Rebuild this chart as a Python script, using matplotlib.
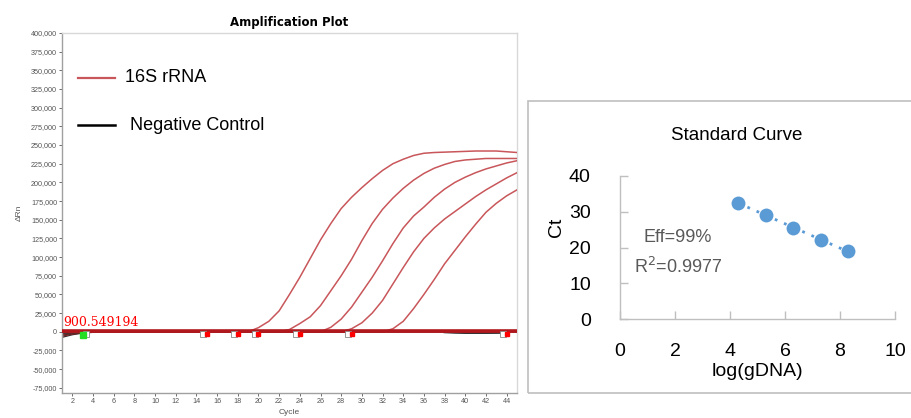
import numpy as np
import matplotlib
matplotlib.use("Agg")
import matplotlib.pyplot as plt
from matplotlib.patches import Rectangle
from matplotlib.lines import Line2D

# ---------------- data ----------------
cycles = list(range(1, 46))

curve1 = [0]*19 + [5500, 14000, 28000, 50000, 73000, 98000, 123000, 145000, 165000,
                   180000, 193000, 205000, 216000, 225000, 231000, 236000, 239000,
                   240000, 240500, 241000, 241500, 242000, 242000, 242000, 241000, 240000]
curve2 = [0]*22 + [3000, 11000, 20000, 35000, 55000, 75000, 97000, 122000, 145000,
                   164000, 179000, 192000, 203000, 212000, 219000, 224000, 228000,
                   230000, 231000, 232000, 232000, 232000, 232000]
curve3 = [0]*26 + [6000, 17000, 33000, 53000, 73000, 95000, 118000, 139000, 155000,
                   167000, 180000, 191000, 200000, 207000, 213000, 218000, 222000,
                   226000, 229000]
curve4 = [0]*28 + [4000, 12000, 25000, 42000, 64000, 86000, 107000, 125000, 139000,
                   151000, 161000, 171000, 181000, 190000, 198000, 206000, 213000]
curve5 = [0]*32 + [4000, 14000, 31000, 50000, 70000, 91000, 109000, 127000, 144000,
                   160000, 172000, 182000, 190000]
amp_curves = [curve1, curve2, curve3, curve4, curve5]

neg_start = [-7500, -4000, -1800, -800, -300, -100, 0]
neg_tail_a = [-600, -1200, -1500, -1500, -1500, -1400, -1200]  # cycles 38..44
neg_tail_b = [-300, -500, -700, -800, -800, -700, -600]

threshold = 900.549194
marker_cycles = [15, 18, 20, 24, 29, 44]
green_cycle = 3

amp_yticks = list(range(-75000, 400001, 25000))
amp_xticks = list(range(2, 45, 2))

log_dna = [4.3, 5.3, 6.3, 7.3, 8.3]
ct_vals = [32.5, 29.0, 25.5, 22.2, 18.9]

# ---------------- figure ----------------
W, H = 912, 418
fig = plt.figure(figsize=(W/100, H/100), dpi=100)
plt.rcParams['font.family'] = ['Liberation Sans', 'DejaVu Sans']

def fx(px):
    return px / W

def fy(py):
    return 1 - py / H

# ---- amplification plot ----
ax = fig.add_axes([fx(62), fy(393), fx(517) - fx(62), fy(33) - fy(393)])
ax.set_xlim(1, 45)
ax.set_ylim(-82000, 400000)

for c in amp_curves:
    ax.plot(cycles, c, color='#c8565a', lw=1.1, zorder=3)

# fan of baseline traces at the start
for k, scale in enumerate([1.0, 0.8, 0.6, 0.45, 0.3]):
    ax.plot(cycles[:7], [v*scale for v in neg_start], color='#303030' if k % 2 == 0 else '#8b2020',
            lw=0.9, zorder=2)
ax.plot(cycles[37:44], neg_tail_a, color='#202020', lw=1.5, zorder=2)
ax.plot(cycles[37:44], neg_tail_b, color='#404040', lw=1.2, zorder=2)

# threshold line (thick dark red baseline)
ax.axhline(threshold, color='#b0181e', lw=2.6, zorder=4)
ax.axhline(-500, color='#8b1a1a', lw=1.2, zorder=3.5)

# baseline markers
for mc in marker_cycles:
    ax.plot([mc - 0.35], [-2500], marker='s', ms=4, mfc='white', mec='#888888', mew=0.6, zorder=5)
    ax.plot([mc], [-3000], marker='s', ms=3.5, color='#ff0000', zorder=6)
ax.plot([green_cycle + 0.3], [-3000], marker='s', ms=4, mfc='white', mec='#888888', mew=0.6, zorder=5)
ax.plot([green_cycle], [-4000], marker='s', ms=4.5, color='#22dd22', zorder=6)

ax.text(1.15, 3500, f"{threshold:.6f}", color='#ff0000', fontsize=9,
        family='DejaVu Serif', va='bottom', ha='left', zorder=7)

ax.set_xticks(amp_xticks)
ax.set_yticks(amp_yticks)
ax.set_yticklabels([f"{v:,}" for v in amp_yticks])
ax.tick_params(axis='both', labelsize=5.2, colors='#555555', length=2, width=0.6, pad=1.5)
for s in ['left', 'bottom']:
    ax.spines[s].set_color('#a0a0a0')
    ax.spines[s].set_linewidth(1.0)
for s in ['top', 'right']:
    ax.spines[s].set_color('#d8d8d8')
    ax.spines[s].set_linewidth(1.0)

ax.set_title('Amplification Plot', fontsize=8.5, fontweight='bold', family='DejaVu Sans', pad=5)
ax.set_ylabel('ΔRn', fontsize=6, color='#555555', labelpad=6)
ax.set_xlabel('Cycle', fontsize=6, color='#555555', labelpad=3)

# legend drawn manually
ax.add_line(Line2D([0.035, 0.116], [0.875, 0.875], transform=ax.transAxes, color='#c8565a', lw=1.6))
ax.text(0.139, 0.875, '16S rRNA', transform=ax.transAxes, fontsize=13, va='center', ha='left')
ax.add_line(Line2D([0.035, 0.116], [0.744, 0.744], transform=ax.transAxes, color='black', lw=1.8))
ax.text(0.150, 0.744, 'Negative Control', transform=ax.transAxes, fontsize=13, va='center', ha='left')

# ---- standard curve box ----
box = Rectangle((fx(528), fy(393)), fx(930) - fx(528), fy(101) - fy(393), transform=fig.transFigure,
                fill=False, edgecolor='#bfbfbf', lw=1.2, clip_on=False)
fig.patches.append(box)
fig.text(fx(737), fy(135), 'Standard Curve', fontsize=13.5, ha='center', va='center')

ax2 = fig.add_axes([fx(620), fy(319), fx(895) - fx(620), fy(176) - fy(319)])
ax2.set_xlim(0, 10)
ax2.set_ylim(0, 40)
slope, intercept = np.polyfit(log_dna, ct_vals, 1)
xfit = np.array([min(log_dna), max(log_dna)])
ax2.plot(xfit, slope * xfit + intercept, linestyle=(0, (1, 2.6)), color='#5b9bd5', lw=2.0, zorder=2)
ax2.scatter(log_dna, ct_vals, s=100, color='#5b9bd5', zorder=3, linewidths=0)
ax2.set_xticks([0, 2, 4, 6, 8, 10])
ax2.set_yticks([0, 10, 20, 30, 40])
ax2.tick_params(axis='x', direction='in', length=6, color='#bfbfbf', width=1.0, labelsize=14, pad=17)
ax2.tick_params(axis='y', direction='in', length=6, color='#bfbfbf', width=1.0, labelsize=14, pad=21)
for s in ['top', 'right']:
    ax2.spines[s].set_visible(False)
for s in ['left', 'bottom']:
    ax2.spines[s].set_color('#bfbfbf')
    ax2.spines[s].set_linewidth(1.0)
ax2.set_facecolor('none')
fig.text(fx(757), fy(371), 'log(gDNA)', fontsize=14, ha='center', va='center')
fig.text(fx(557), fy(227), 'Ct', fontsize=14, ha='center', va='center', rotation=90)
fig.text(fx(678), fy(237), 'Eff=99%', fontsize=13, ha='center', va='center', color='#595959')
fig.text(fx(678), fy(267), 'R$^2$=0.9977', fontsize=13, ha='center', va='center', color='#595959')

fig.savefig('out.png', dpi=100)
